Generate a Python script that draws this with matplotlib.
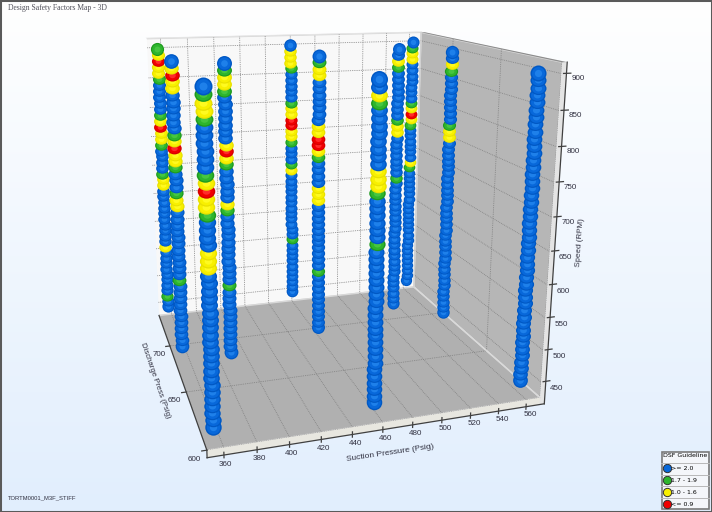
import numpy as np, matplotlib
matplotlib.use('Agg')
import matplotlib.pyplot as plt
from matplotlib.lines import Line2D
from matplotlib.patches import Rectangle
from matplotlib.path import Path
from matplotlib.transforms import Affine2D
from matplotlib.markers import MarkerStyle
from mpl_toolkits.mplot3d.art3d import Poly3DCollection

suction   = [356, 355, 355, 386, 458, 457, 456, 528, 559, 558, 558]
discharge = [733, 682, 604, 669, 735, 684, 604, 703, 734, 684, 604]
speed_low, speed_high, speed_step = 450, 900, 10
# DSF bands that are not ">= 2.0": (highest speed, lowest speed, category)
bands_0 = [(900,900,'G'),(890,890,'Y'),(880,880,'R'),(870,860,'Y'),(850,850,'G'),(790,790,'G'),(780,780,'Y'),(770,770,'R'),(760,750,'Y'),(740,740,'G'),(690,690,'G'),(680,670,'Y'),(560,560,'Y'),(470,470,'G')]
bands_1 = [(890,890,'Y'),(880,880,'R'),(870,860,'Y'),(790,790,'G'),(780,780,'Y'),(770,770,'R'),(760,750,'Y'),(740,740,'G'),(700,700,'G'),(690,680,'Y'),(560,560,'G')]
bands_2 = [(890,890,'G'),(880,870,'Y'),(860,860,'G'),(790,790,'G'),(780,780,'Y'),(770,770,'R'),(760,750,'Y'),(740,740,'G'),(690,670,'Y')]
bands_3 = [(890,890,'G'),(880,870,'Y'),(860,860,'G'),(780,780,'Y'),(770,770,'R'),(760,760,'Y'),(750,750,'G'),(690,690,'Y'),(680,680,'G'),(560,560,'G')]
bands_4 = [(890,870,'Y'),(860,860,'G'),(800,800,'G'),(790,780,'Y'),(770,760,'R'),(750,740,'Y'),(730,730,'G'),(690,690,'G'),(680,680,'Y'),(550,550,'G')]
bands_5 = [(890,890,'G'),(880,870,'Y'),(790,780,'Y'),(770,760,'R'),(750,750,'Y'),(740,740,'G'),(690,670,'Y'),(550,550,'G')]
bands_6 = [(880,880,'Y'),(870,870,'G'),(780,760,'Y'),(750,750,'G'),(680,680,'G')]
bands_7 = [(880,880,'Y'),(870,870,'G'),(780,780,'G'),(770,760,'Y'),(680,680,'G')]
bands_8 = [(890,890,'G'),(880,870,'Y'),(790,790,'G'),(780,780,'Y'),(770,770,'R'),(760,760,'Y'),(750,750,'G'),(680,680,'Y'),(670,670,'G')]
bands_9 = [(880,880,'Y'),(870,870,'G'),(780,780,'G'),(770,760,'Y')]
bands_10 = []
all_bands = [bands_0,bands_1,bands_2,bands_3,bands_4,bands_5,bands_6,bands_7,bands_8,bands_9,bands_10]
x_ticks = [360,380,400,420,440,460,480,500,520,540,560]
y_ticks = [600,650,700]
z_ticks = [450,500,550,600,650,700,750,800,850,900]
legend_labels = ['>= 2.0','1.7 - 1.9','1.0 - 1.6','<= 0.9']

PAL = {'B':('#0058C4','#0868DA','#1E80EA'),'G':('#1E9A1E','#2DB52D','#46C640'),
       'Y':('#E8E000','#F8F000','#FFFA20'),'R':('#D40000','#F00000','#FF2A2A')}
XL,YL,ZL = (350,570),(600,740),(425,915)
RX,RZ,RY = 3.5,11,5

ROUND = MarkerStyle('o')
BEAD = MarkerStyle(Path.unit_circle().transformed(Affine2D().scale(1,0.82)))

fig = plt.figure(figsize=(7.12,5.12),dpi=100)
bg = fig.add_axes([0,0,1,1],zorder=-5); bg.axis('off')
top,bot = np.array([255,255,255.]),np.array([225,238,253.])
g = (top+(bot-top)*np.linspace(0,1,256)[:,None])[:,None,:]/255
bg.imshow(g,aspect='auto',extent=(0,1,0,1),origin='upper')
bg.add_patch(Rectangle((0,0),1,1,transform=bg.transAxes,fill=False,ec='#5a5a5a',lw=2.2))

cx,cy,S = 331.416,207.2,528.304
ax = fig.add_axes([(cx-S/2)/712,(512-cy-S/2)/512,S/712,S/512],projection='3d',computed_zorder=False)
ax.patch.set_visible(False)
ax.viewLim.intervalx = (-0.095,0.095)
ax.viewLim.intervaly = (-0.09,0.09)
ax.set_xlim(*XL);ax.set_ylim(*YL);ax.set_zlim(*ZL)
ax.view_init(14.886,-107.801,-0.291)
ax.set_proj_type('persp',focal_length=0.3287)
ax.set_box_aspect((1,0.970,0.942))
ax.set_xticks(x_ticks);ax.set_yticks(y_ticks);ax.set_zticks(z_ticks)
ax.xaxis.set_pane_color('#B6B6B6');ax.yaxis.set_pane_color('#F8F8F8');ax.zaxis.set_pane_color('#B0B0B0')
for a in (ax.xaxis,ax.yaxis,ax.zaxis):
    a.pane.set_edgecolor('#D8D8D8')
    a._axinfo['grid'].update(color='#808080',linewidth=0.6,linestyle=(0,(1,1.2)))
    a._axinfo['tick']['linewidth'] = {True:0,False:0}
    a.line.set_visible(False)
ax.zaxis.set_ticks_position('lower')
ax.zaxis.set_label_position('lower')
for n,p in (('x',-3),('y',-5),('z',-1.5)):
    ax.tick_params(axis=n,labelsize=5.8,labelcolor='#303040',pad=p)
for t in ax.get_xticklabels()+ax.get_yticklabels()+ax.get_zticklabels(): t.set_family('Liberation Sans')
for t in ax.get_yticklabels(): t.set_ha('right')
tf = dict(family='Liberation Sans',color='#303040')
ax.set_xlabel('Suction Pressure (Psig)',labelpad=-8.5,fontsize=6,**tf)
ax.set_zlabel('Speed (RPM)',labelpad=-9,fontsize=5.8,**tf)
fig.text(155.5/712,1-381/512,'Discharge Press (Psig)',rotation=-71,rotation_mode='anchor',ha='center',va='center',fontsize=5.6,**tf)

xa,xb=XL;ya,yb=YL;za,zb=ZL
rims=[([(xa,ya,za-RZ),(xb+RX,ya,za-RZ),(xb+RX,ya,za),(xa,ya,za)],'#E8E7E0'),
      ([(xb,ya,za-RZ),(xb+RX,ya,za-RZ),(xb+RX,ya,zb),(xb,ya,zb)],'#E4E4E4'),
      ([(xb,ya,zb),(xb+RX,ya,zb),(xb+RX,yb,zb),(xb,yb,zb)],'#8C8C8C'),
      ([(xa,yb,zb),(xb,yb,zb),(xb,yb+RY,zb),(xa,yb+RY,zb)],'#E6E6E6')]
for v,c in rims:
    ax.add_collection3d(Poly3DCollection([v],facecolors=c,edgecolors='none',zorder=1))
ax.plot([xb,xb],[yb,ya],[za,za],color='#DADADA',lw=1,zorder=1.2)
ax.plot([xb,xb],[yb,yb],[za,zb],color='#D0D0D0',lw=0.8,zorder=1.2)
k=dict(color='#404040',lw=0.9,zorder=1.5)
ax.plot([xa,xb+RX],[ya,ya],[za-RZ,za-RZ],**k)
ax.plot([xa,xa],[ya,yb],[za,za],**k)
ax.plot([xa,xa],[ya,ya],[za-RZ,za],**k)
ax.plot([xb+RX,xb+RX],[ya,ya],[za-RZ,zb],**k)
for x in x_ticks: ax.plot([x,x],[ya,ya],[za-RZ-4,za-RZ+4],**k)
for y in y_ticks: ax.plot([xa-3,xa],[y,y],[za,za],**k)
for z in z_ticks: ax.plot([xb+RX-2,xb+RX+3],[ya,ya],[z,z],**k)

M = ax.get_proj()
def dist(x,y,z): return (M@np.array([x,y,z,1.0]))[3]
ref = dist(suction[2],discharge[2],450)
order = sorted(range(len(suction)),key=lambda i:-dist(suction[i],discharge[i],675))
for rank,i in enumerate(order):
    cat = {z:'B' for z in range(speed_low,speed_high+1,speed_step)}
    for hi,lo,c in all_bands[i]:
        for z in range(lo,hi+1,speed_step): cat[z]=c
    zs = sorted(cat)
    for n,z in enumerate(zs):
        r = 8.2*ref/dist(suction[i],discharge[i],z)
        d = 2*r*0.72
        zo = 2+rank+n*0.01
        end = z in (zs[0],zs[-1])
        for j,(f,cc) in enumerate(zip((1.0,0.82,0.45),PAL[cat[z]])):
            ax.scatter([suction[i]],[discharge[i]],[z],s=(d*f)**2,c=cc,marker=ROUND if end else BEAD,
                       linewidths=0,depthshade=False,zorder=zo+j*0.001)

fig.text(8/712,1-8/512,'Design Safety Factors Map - 3D',family='Liberation Serif',fontsize=5.5,color='#50505a',va='center',ha='left')
fig.text(8/712,1-498/512,'TORTM0001_M3F_STIFF',family='Liberation Sans',fontsize=4.2,color='#303040',va='center',ha='left')
handles=[Line2D([],[],ls='',marker='o',ms=6.0,mfc=PAL[c][1],mec='#303030',mew=.7) for c in 'BGYR']
leg=fig.legend(handles,legend_labels,title='DSF Guideline',loc='lower right',bbox_to_anchor=(709/712,1-509/512),bbox_transform=fig.transFigure,
    fontsize=4.5,title_fontsize=4.5,frameon=True,fancybox=False,edgecolor='#7a7a7a',facecolor='#F4F6FA',framealpha=1,
    borderpad=0.25,labelspacing=1.1,handletextpad=0.2,handlelength=1.1,borderaxespad=0)
leg.get_frame().set_linewidth(1.2)
leg._legend_box.align='left'
for y in (463,474.5,486,497.5):
    fig.add_artist(Line2D([661/712,709/712],[1-y/512,1-y/512],color='#B8B8B8',lw=0.7,zorder=10))
fig.savefig('out.png',dpi=100)
